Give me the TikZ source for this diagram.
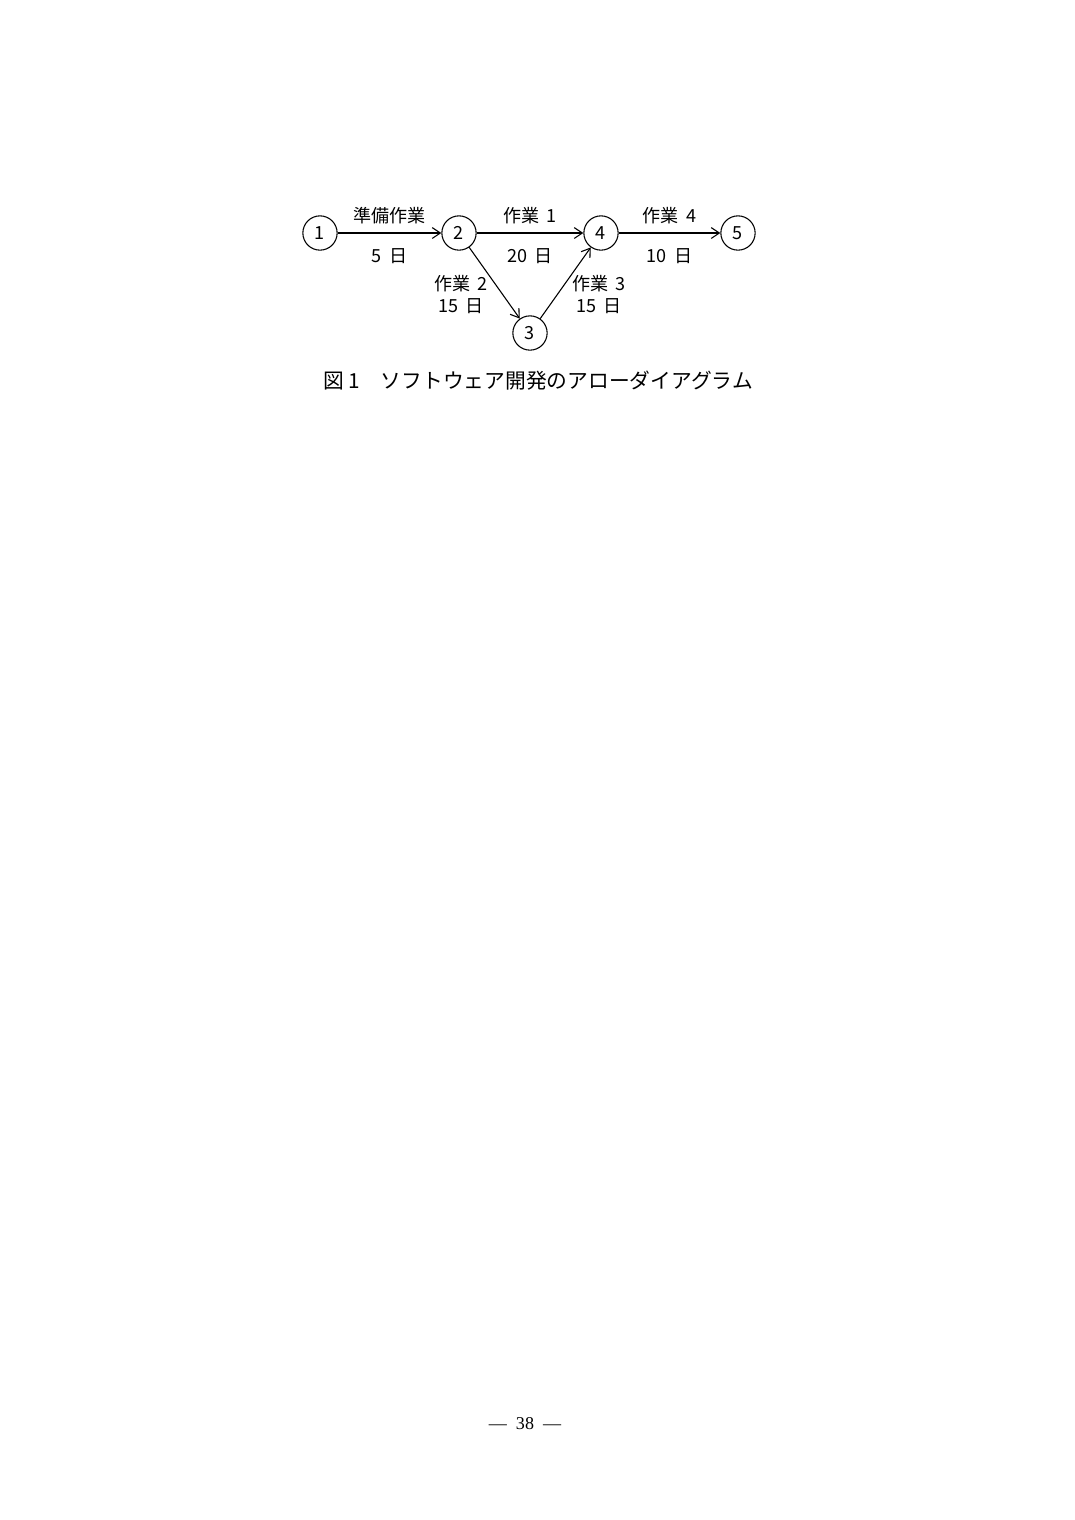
\documentclass[tikz,border=0pt]{standalone}
\usepackage{fontspec}
\setmainfont{Noto Sans CJK JP}
\newfontfamily\folio{Liberation Serif}
\usetikzlibrary{
	automata,
	positioning,
	arrows.meta
}
\newcommand{\gap}{\hspace{0.4em}}

\begin{document}
\begin{tikzpicture}[
		x=0.5542pt, y=-0.5542pt,
		font=\fontsize{10}{12}\selectfont,
		every state/.style={draw, line width=0.6pt, minimum size=19pt, inner sep=0pt},
		every edge/.style={draw, line width=0.6pt, -{Straight Barb[length=4.5pt,width=6pt]}}
	]
		\useasboundingbox (0,0) rectangle (1074,1520);
		\draw
			node[state] (e1) at (320,233) {1}
			node[state] (e2) at (459,233) {2}
			node[state] (e3) at (530,333) {3}
			node[state] (e4) at (601,233) {4}
			node[state] (e5) at (738,233) {5}

			(e1) edge node[above=1.5pt]{準備作業} node[below=5pt]{5\gap 日}  (e2)
			(e2) edge node[above=1.5pt]{作業\gap 1}   node[below=5pt]{20\gap 日} (e4)
			(e4) edge node[above=1.5pt]{作業\gap 4}   node[below=5pt]{10\gap 日} (e5)
			(e2) edge node[left,align=center,yshift=-6.5pt]{作業\gap 2\\15\gap 日}  (e3)
			(e3) edge node[right,align=center,yshift=-6.5pt]{作業\gap 3\\15\gap 日} (e4)
		;
		\node[font=\fontsize{11.5}{13}\selectfont] (caption) at (538,381) {図 1\quad ソフトウェア開発のアローダイアグラム};
		\node[font=\folio\fontsize{10}{12}\selectfont] (page) at (525,1424) {—\enspace 38\enspace —};
	\end{tikzpicture}
\end{document}
